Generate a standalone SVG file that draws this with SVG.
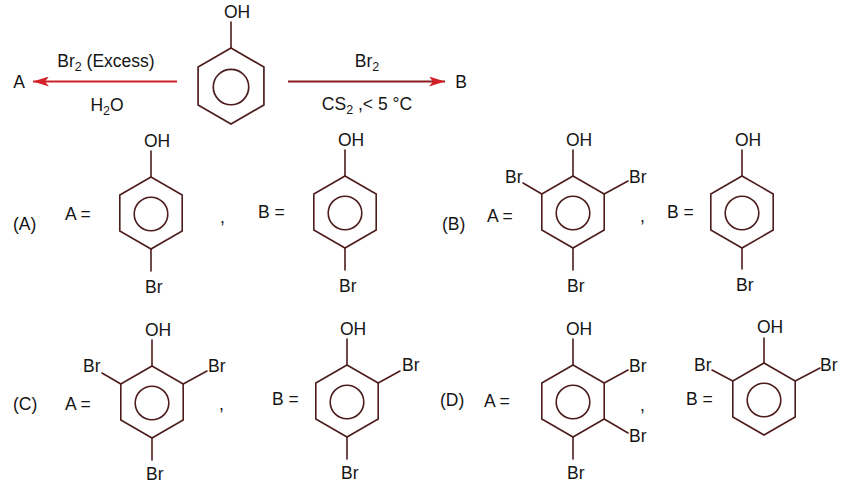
<svg xmlns="http://www.w3.org/2000/svg" xmlns:xlink="http://www.w3.org/1999/xlink" width="868" height="486" viewBox="0 0 868 486">
<style>
text{font-family:"Liberation Sans",Arial,sans-serif;font-size:17.5px;fill:#151515}
.b{stroke:#4d1c1c;stroke-width:1.6;fill:none;stroke-linecap:round}
.sub{font-size:12.5px}
</style>
<defs>
<g id="ring">
<path class="b" d="M0,-36 L31.2,-18 L31.2,18 L0,36 L-31.2,18 L-31.2,-18 Z"/>
<circle class="b" cx="0" cy="1" r="16.8"/>
</g>
<marker id="ah" viewBox="0 0 16 10" refX="16" refY="5" markerWidth="16" markerHeight="10" markerUnits="userSpaceOnUse" orient="auto">
<path d="M0,0 L16,5 L0,10 L4,5 Z" fill="#d42027"/>
</marker>
</defs>
<rect width="868" height="486" fill="#ffffff"/>

<g id="connectors">
<line x1="177" y1="81.5" x2="33" y2="81.5" stroke="#cc2229" stroke-width="1.8" marker-end="url(#ah)"/>
<line x1="288" y1="81.5" x2="445" y2="81.5" stroke="#8a1c22" stroke-width="1.8" marker-end="url(#ah)"/>
</g>

<g id="reaction-labels">
<text x="19" y="88" text-anchor="middle">A</text>
<text x="461" y="88" text-anchor="middle">B</text>
<text x="106" y="67" text-anchor="middle">Br<tspan class="sub" dy="4">2</tspan><tspan dy="-4"> (Excess)</tspan></text>
<text x="107" y="111" text-anchor="middle">H<tspan class="sub" dy="4">2</tspan><tspan dy="-4">O</tspan></text>
<text x="367" y="67" text-anchor="middle">Br<tspan class="sub" dy="4">2</tspan></text>
<text x="367" y="110" text-anchor="middle">CS<tspan class="sub" dy="4">2</tspan><tspan dy="-4"> ,&lt; 5 °C</tspan></text>
</g>

<g id="phenol">
<use xlink:href="#ring" href="#ring" transform="translate(231,86) scale(1.055)"/>
<line class="b" x1="231" y1="48" x2="231" y2="22"/>
<text x="224" y="18">OH</text>
</g>

<g id="optA">
<text x="13" y="230">(A)</text>
<text x="65" y="220">A =</text>
<text x="258" y="218">B =</text>
<text x="220" y="223">,</text>
</g>
<g id="optA-A">
<use xlink:href="#ring" href="#ring" transform="translate(151,213)"/>
<line class="b" x1="151" y1="177" x2="151" y2="151"/>
<text x="144" y="147">OH</text>
<line class="b" x1="151" y1="249" x2="151" y2="271"/>
<text x="145" y="293">Br</text>
</g>
<g id="optA-B">
<use xlink:href="#ring" href="#ring" transform="translate(345,212)"/>
<line class="b" x1="345" y1="176" x2="345" y2="150"/>
<text x="338" y="146">OH</text>
<line class="b" x1="345" y1="248" x2="345" y2="270"/>
<text x="339" y="292">Br</text>
</g>

<g id="optB">
<text x="442" y="230">(B)</text>
<text x="487" y="222">A =</text>
<text x="667" y="218">B =</text>
<text x="640" y="222">,</text>
</g>
<g id="optB-A">
<use xlink:href="#ring" href="#ring" transform="translate(573,212)"/>
<line class="b" x1="573" y1="176" x2="573" y2="150"/>
<text x="566" y="146">OH</text>
<line class="b" x1="541.8" y1="194" x2="523" y2="183"/>
<text x="505" y="183">Br</text>
<line class="b" x1="604.2" y1="194" x2="628" y2="181"/>
<text x="629" y="183">Br</text>
<line class="b" x1="573" y1="248" x2="573" y2="270"/>
<text x="567" y="292">Br</text>
</g>
<g id="optB-B">
<use xlink:href="#ring" href="#ring" transform="translate(742,212)"/>
<line class="b" x1="742" y1="176" x2="742" y2="150"/>
<text x="735" y="146">OH</text>
<line class="b" x1="742" y1="248" x2="742" y2="269"/>
<text x="736" y="291">Br</text>
</g>

<g id="optC">
<text x="13" y="410">(C)</text>
<text x="65" y="410">A =</text>
<text x="272" y="405">B =</text>
<text x="219" y="410">,</text>
</g>
<g id="optC-A">
<use xlink:href="#ring" href="#ring" transform="translate(152,402)"/>
<line class="b" x1="152" y1="366" x2="152" y2="340"/>
<text x="145" y="336">OH</text>
<line class="b" x1="120.8" y1="384" x2="102" y2="373"/>
<text x="83" y="372">Br</text>
<line class="b" x1="183.2" y1="384" x2="207" y2="371"/>
<text x="208" y="372">Br</text>
<line class="b" x1="152" y1="438" x2="152" y2="460"/>
<text x="146" y="480">Br</text>
</g>
<g id="optC-B">
<use xlink:href="#ring" href="#ring" transform="translate(347,401)"/>
<line class="b" x1="347" y1="365" x2="347" y2="339"/>
<text x="340" y="335">OH</text>
<line class="b" x1="378.2" y1="383" x2="400" y2="371"/>
<text x="402" y="371">Br</text>
<line class="b" x1="347" y1="437" x2="347" y2="459"/>
<text x="341" y="479">Br</text>
</g>

<g id="optD">
<text x="440" y="406">(D)</text>
<text x="484" y="407">A =</text>
<text x="686" y="405">B =</text>
<text x="640" y="411">,</text>
</g>
<g id="optD-A">
<use xlink:href="#ring" href="#ring" transform="translate(573,401)"/>
<line class="b" x1="573" y1="365" x2="573" y2="339"/>
<text x="566" y="335">OH</text>
<line class="b" x1="604.2" y1="383" x2="628" y2="370"/>
<text x="629" y="372">Br</text>
<line class="b" x1="604.2" y1="419" x2="628" y2="433"/>
<text x="629" y="442">Br</text>
<line class="b" x1="573" y1="437" x2="573" y2="459"/>
<text x="567" y="479">Br</text>
</g>
<g id="optD-B">
<use xlink:href="#ring" href="#ring" transform="translate(764,399)"/>
<line class="b" x1="764" y1="363" x2="764" y2="338"/>
<text x="757" y="333">OH</text>
<line class="b" x1="732.8" y1="381" x2="712" y2="370"/>
<text x="694" y="371">Br</text>
<line class="b" x1="795.2" y1="381" x2="820" y2="368"/>
<text x="820" y="371">Br</text>
</g>
</svg>
